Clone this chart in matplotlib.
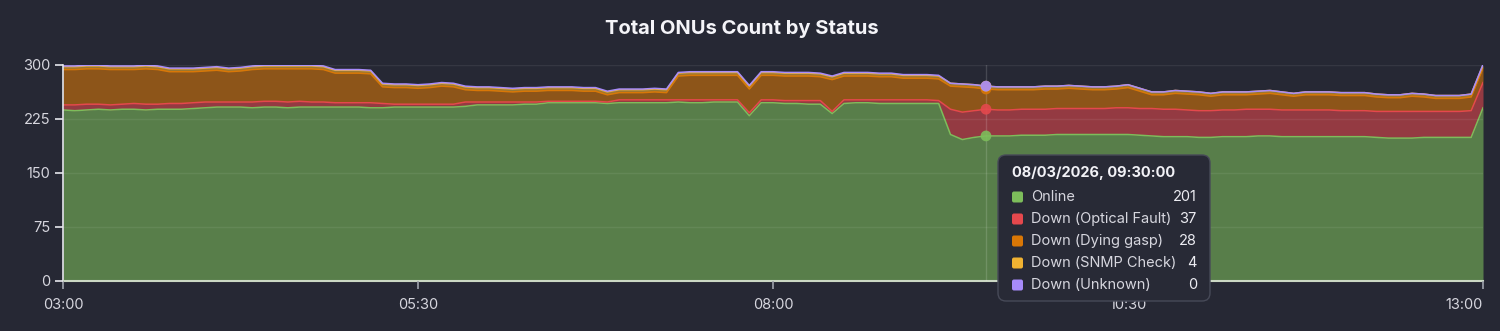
import numpy as np
import pandas as pd
import matplotlib
matplotlib.use('Agg')
import matplotlib.pyplot as plt
import matplotlib.dates as mdates
from matplotlib.patches import FancyBboxPatch
from matplotlib.transforms import Affine2D

plt.rcParams['font.family'] = ['Inter', 'DejaVu Sans']

W, H = 1500, 331
BG = '#262834'

# 5-minute samples, 03:00 -> 13:00
times = pd.date_range('2026-03-08 03:00', '2026-03-08 13:00', freq='5min')

online = [
    237, 236, 237, 238, 237, 238, 238, 237, 238, 238,
    238, 239, 240, 241, 241, 241, 240, 241, 241, 240,
    241, 241, 241, 241, 241, 241, 240, 240, 241, 241,
    241, 241, 241, 241, 242, 244, 244, 244, 244, 245,
    245, 247, 247, 247, 247, 247, 246, 247, 247, 247,
    247, 247, 248, 247, 247, 248, 248, 248, 229, 247,
    247, 246, 246, 245, 245, 232, 246, 247, 247, 246,
    246, 246, 246, 246, 246, 203, 196, 199, 201, 201,
    201, 202, 202, 202, 203, 203, 203, 203, 203, 203,
    203, 202, 201, 200, 200, 200, 199, 199, 200, 200,
    200, 201, 201, 200, 200, 200, 200, 200, 200, 200,
    200, 199, 198, 198, 198, 199, 199, 199, 199, 199,
    240,
]
optical_fault = [
    7, 8, 8, 7, 7, 7, 8, 8, 7, 8,
    8, 8, 8, 7, 7, 7, 8, 8, 8, 8,
    8, 7, 7, 6, 6, 6, 7, 6, 4, 4,
    4, 4, 4, 4, 6, 4, 4, 4, 4, 3,
    3, 2, 2, 2, 2, 2, 2, 4, 4, 4,
    4, 4, 3, 4, 4, 3, 3, 3, 4, 4,
    4, 4, 4, 5, 5, 3, 5, 4, 4, 5,
    5, 5, 5, 5, 4, 35, 38, 37, 37, 36,
    36, 36, 36, 36, 36, 36, 36, 36, 36, 37,
    37, 37, 38, 38, 38, 37, 37, 37, 37, 37,
    38, 37, 37, 37, 37, 37, 37, 37, 36, 36,
    36, 36, 37, 37, 37, 36, 36, 36, 36, 37,
    35,
]
dying_gasp = [
    49, 49, 49, 49, 49, 48, 47, 49, 48, 44,
    44, 43, 43, 44, 42, 43, 45, 45, 45, 46,
    45, 46, 45, 41, 41, 41, 40, 23, 23, 23,
    22, 23, 25, 24, 17, 16, 16, 15, 14, 15,
    15, 15, 15, 15, 14, 14, 10, 10, 10, 10,
    11, 10, 33, 34, 34, 34, 34, 34, 33, 34,
    34, 34, 34, 34, 33, 44, 33, 33, 33, 32,
    32, 30, 30, 30, 30, 32, 35, 32, 28, 28,
    28, 27, 27, 28, 27, 28, 27, 26, 26, 26,
    28, 24, 19, 20, 22, 22, 22, 20, 21, 21,
    20, 21, 22, 21, 19, 21, 21, 21, 21, 21,
    21, 20, 19, 19, 21, 20, 18, 18, 18, 19,
    20,
]
snmp_check = [
    4, 4, 4, 4, 4, 4, 4, 4, 4, 4,
    4, 4, 4, 4, 4, 4, 4, 4, 4, 4,
    4, 4, 4, 4, 4, 4, 4, 4, 4, 4,
    4, 4, 4, 4, 4, 4, 4, 4, 4, 4,
    4, 4, 4, 4, 4, 4, 4, 4, 4, 4,
    4, 4, 4, 4, 4, 4, 4, 4, 4, 4,
    4, 4, 4, 4, 4, 4, 4, 4, 4, 4,
    4, 4, 4, 4, 4, 4, 4, 4, 4, 4,
    4, 4, 4, 4, 4, 4, 4, 4, 4, 4,
    4, 4, 4, 4, 4, 4, 4, 4, 4, 4,
    4, 4, 4, 4, 4, 4, 4, 4, 4, 4,
    4, 4, 4, 4, 4, 4, 4, 4, 4, 4,
    4,
]
unknown = [
    1, 1, 1, 1, 1, 1, 1, 1, 1, 1,
    1, 1, 1, 1, 1, 1, 1, 1, 1, 1,
    1, 1, 1, 1, 1, 1, 1, 1, 1, 1,
    1, 1, 1, 1, 1, 1, 1, 1, 1, 1,
    1, 1, 1, 1, 1, 1, 1, 1, 1, 1,
    1, 1, 1, 1, 1, 1, 1, 1, 1, 1,
    1, 1, 1, 1, 1, 1, 1, 1, 1, 1,
    1, 1, 1, 1, 1, 0, 0, 0, 0, 0,
    0, 0, 0, 0, 0, 0, 0, 0, 0, 0,
    0, 0, 0, 0, 0, 0, 0, 0, 0, 0,
    0, 0, 0, 0, 0, 0, 0, 0, 0, 0,
    0, 0, 0, 0, 0, 0, 0, 0, 0, 0,
    1,
]

series_names = ['Online', 'Down (Optical Fault)', 'Down (Dying gasp)',
                'Down (SNMP Check)', 'Down (Unknown)']
series_colors = ['#7dbd5b', '#e5484d', '#d97706', '#f0b232', '#a78bfa']
x_tick_labels = ['03:00', '05:30', '08:00', '10:30', '13:00']
y_ticks = [0, 75, 150, 225, 300]
hover_time = '2026-03-08 09:30'

fig = plt.figure(figsize=(W / 100, H / 100), dpi=100, facecolor=BG)
ax = fig.add_axes([63 / W, 1 - 281 / H, (1483 - 63) / W, (281 - 64.5) / H])
ax.set_facecolor(BG)

x = mdates.date2num(times)
values = np.array([online, optical_fault, dying_gasp, snmp_check, unknown])
tops = np.cumsum(values, axis=0)
bottoms = np.vstack([np.zeros(len(x)), tops[:-1]])

for k in range(len(series_names)):
    ax.fill_between(x, bottoms[k], tops[k], color=series_colors[k],
                    alpha=0.58, lw=0, zorder=1)
for k in range(len(series_names)):
    ax.plot(x, tops[k], color=series_colors[k], lw=1.1, zorder=2)

ax.set_xlim(x[0], x[-1])
ax.set_ylim(0, 300)
ax.set_yticks(y_ticks)
ax.set_yticklabels([str(v) for v in y_ticks])
xt = [mdates.date2num(pd.Timestamp('2026-03-08 ' + t)) for t in x_tick_labels]
ax.set_xticks(xt)
ax.set_xticklabels(x_tick_labels)
ax.get_xticklabels()[-1].set_horizontalalignment('right')

ax.set_axisbelow(False)
ax.grid(axis='y', color='white', alpha=0.07, lw=1)
for s in ['top', 'right']:
    ax.spines[s].set_visible(False)
ax.spines['left'].set_color('#e6e6ec')
ax.spines['left'].set_linewidth(1.2)
ax.spines['bottom'].set_color('#cbd8c4')
ax.spines['bottom'].set_linewidth(1.5)
ax.tick_params(axis='y', length=6, width=1.2, color='#e6e6ec',
               labelcolor='#d6d6de', labelsize=10.5, pad=3)
ax.tick_params(axis='x', length=6, width=1.2, color='#9fa3ad',
               labelcolor='#d6d6de', labelsize=10.5, pad=6)

# hover state
hi = times.get_loc(pd.Timestamp(hover_time))
ax.axvline(x[hi], color='white', alpha=0.15, lw=1, zorder=4)
ax.scatter([x[hi]] * len(series_names), tops[:, hi], c=series_colors, s=60,
           edgecolors='none', alpha=0.9, zorder=5, clip_on=False)

fig.text(742 / W, 1 - 29 / H, 'Total ONUs Count by Status', ha='center',
         va='center', fontsize=14.5, fontweight='bold', color='#f4f4f8')

# tooltip in pixel coords (origin top-left)
px = Affine2D().scale(1 / W, -1 / H).translate(0, 1) + fig.transFigure
fig.add_artist(FancyBboxPatch((998, 155), 212, 146,
                              boxstyle='round,pad=0,rounding_size=8',
                              transform=px, facecolor='#282a36',
                              edgecolor='#474a58', lw=1, zorder=10))
fig.text(1012, 173, times[hi].strftime('%d/%m/%Y, %H:%M:%S'), transform=px,
         ha='left', va='center', fontsize=10.5, fontweight='bold',
         color='#f2f2f7', zorder=11)
for k, name in enumerate(series_names):
    yy = 197 + 22 * k
    fig.add_artist(FancyBboxPatch((1012, yy - 5.5), 11, 11,
                                  boxstyle='round,pad=0,rounding_size=2',
                                  transform=px, facecolor=series_colors[k],
                                  edgecolor='none', zorder=11))
    fig.text(1031, yy, name, transform=px, ha='left', va='center',
             fontsize=10.5, color='#d6d6de', zorder=11)
    fig.text(1197, yy, str(values[k, hi]), transform=px, ha='right',
             va='center', fontsize=10.5, color='#ececf2', zorder=11)

fig.savefig('out.png', dpi=100, facecolor=BG)
